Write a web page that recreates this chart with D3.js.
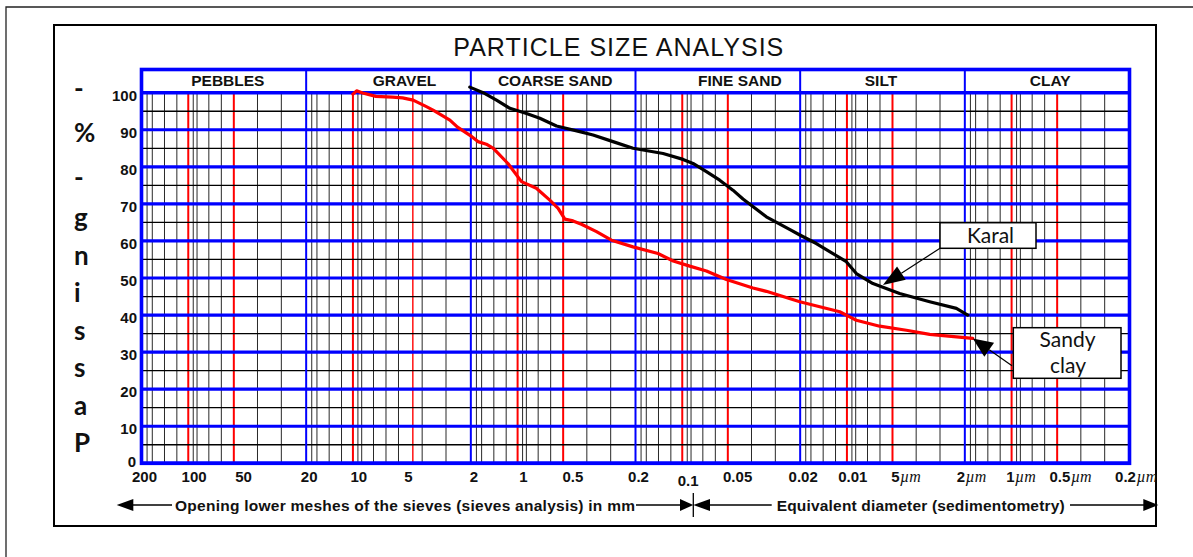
<!DOCTYPE html>
<html><head><meta charset="utf-8">
<script src="https://cdn.jsdelivr.net/npm/d3@7"></script>
<style>body{margin:0;background:#fff}svg{display:block}</style>
</head><body><svg id="c" width="1193" height="557"></svg>
<script>
// ---------------- DATA ----------------
const zoneNames  = ["PEBBLES", "GRAVEL", "COARSE SAND", "FINE SAND", "SILT", "CLAY"];
const zoneBounds = [200, 20, 2, 0.2, 0.02, 0.002, 0.0002];          // mm
// minor grid lines of one decade (read from the first decade, 200 -> 20 mm)
const minorGridMm = [185, 172, 145, 122, 104, 97, 92, 78, 65.5, 55, 39.5, 28.3];
const redGridMm   = [104, 55];       // red lines of each decade
const notRedMm    = [5.5];           // in the gravel decade this line is black
const extraRedMm  = [4.5];           // ... and a red line sits here instead
const yMajor = [0, 10, 20, 30, 40, 50, 60, 70, 80, 90, 100];
const yMinor = [5, 15, 25, 35, 45, 55, 65, 75, 85, 95];
const xTickValues = [200, 100, 50, 20, 10, 5, 2, 1, 0.5, 0.2, 0.1, 0.05, 0.02, 0.01, 0.005, 0.002, 0.001, 0.0005, 0.0002];
const xTickLabels = ["200", "100", "50", "20", "10", "5", "2", "1", "0.5", "0.2", "0.1", "0.05", "0.02", "0.01", "5\u00b5m", "2\u00b5m", "1\u00b5m", "0.5\u00b5m", "0.2\u00b5m"];

// Sandy clay (red)
const sandyClayD = [10.4, 9.88, 9.09, 7.54, 5.98, 5.20, 4.48, 3.75, 3.39, 2.68, 2.41, 1.98, 1.81, 1.61, 1.46, 1.19, 0.985, 0.80, 0.663, 0.590, 0.537, 0.479, 0.426, 0.345, 0.280, 0.207, 0.146, 0.118, 0.0937, 0.0742, 0.0561, 0.0387, 0.0321, 0.0201, 0.0115, 0.0100, 0.00912, 0.00658, 0.00453, 0.00327, 0.00179];
const sandyClayP = [99.6, 100.5, 99.9, 99.0, 98.8, 98.6, 98.0, 96.3, 95.3, 92.6, 90.7, 88.2, 86.8, 86.1, 85.0, 80.9, 76.0, 74.2, 71.0, 68.8, 65.9, 65.4, 64.5, 62.5, 60.2, 58.4, 56.6, 54.6, 53.2, 51.9, 49.6, 47.3, 46.4, 43.6, 40.9, 39.5, 38.6, 37.0, 35.9, 34.8, 33.7];
// Karal (black)
const karalD = [2.03, 1.684, 1.397, 1.159, 0.918, 0.762, 0.604, 0.436, 0.362, 0.274, 0.207, 0.136, 0.1029, 0.0895, 0.0742, 0.0616, 0.0512, 0.0445, 0.0321, 0.0232, 0.0201, 0.01595, 0.01049, 0.00912, 0.00723, 0.00498, 0.00327, 0.00225, 0.00192];
const karalP = [101.5, 100, 98.0, 95.8, 94.4, 93.1, 91.0, 89.5, 88.6, 86.8, 85.0, 83.6, 82.0, 80.9, 78.7, 76.4, 73.7, 71.3, 66.5, 63.1, 61.6, 59.3, 54.4, 51.2, 48.5, 45.8, 43.6, 41.8, 40.0];

const yTitleChars = ["P", "a", "s", "s", "i", "n", "g", "-", "%", "-"];   // bottom to top

// ---------------- DRAW ----------------
const svg = d3.select("#c");
const SANS = "'Liberation Sans', Arial, sans-serif";
const HUM = "Lato, 'Open Sans', sans-serif";
const SERIF = "'Liberation Serif', 'Times New Roman', serif";
const BLUE = "#0000ff", RED = "#ff0000";

const x = d3.scaleLog().domain([200, 0.0002]).range([141.5, 1129.5]);
const y = d3.scaleLinear().domain([0, 100]).range([463.3, 92.7]);
const headTop = 69.5;
const near = (a, b) => Math.abs(Math.log10(a) - Math.log10(b)) < 1e-6;

// frames
svg.append("path").attr("d", "M6,557 V7 H1193").attr("fill", "none").attr("stroke", "#222").attr("stroke-width", 1.3);
svg.append("rect").attr("x", 54).attr("y", 25).attr("width", 1102).attr("height", 501)
  .attr("fill", "none").attr("stroke", "#000").attr("stroke-width", 2);

// title
svg.append("text").attr("x", 618.3).attr("y", 55.7).attr("text-anchor", "middle")
  .attr("font-family", SANS).attr("font-size", 25).attr("textLength", 330).attr("lengthAdjust", "spacing")
  .attr("fill", "#111").text("PARTICLE SIZE ANALYSIS");

const grid = svg.append("g");
const decades = d3.range(zoneBounds.length - 1);
const allRed = decades.flatMap(k => redGridMm.map(m => m / Math.pow(10, k)));
const redVals = allRed.filter(v => !notRedMm.some(n => near(n, v)));
const minorVals = decades.flatMap(k => minorGridMm.filter(m => !redGridMm.includes(m)).map(m => m / Math.pow(10, k)))
  .concat(allRed.filter(v => notRedMm.some(n => near(n, v))));
// minor verticals
grid.selectAll(".mv").data(minorVals).join("line")
  .attr("x1", d => x(d)).attr("x2", d => x(d)).attr("y1", y(100)).attr("y2", y(0))
  .attr("stroke", "#2a2a2a").attr("stroke-width", 1);
// red verticals
grid.selectAll(".rv").data(redVals).join("line")
  .attr("x1", d => x(d)).attr("x2", d => x(d)).attr("y1", y(100)).attr("y2", y(0))
  .attr("stroke", RED).attr("stroke-width", 2);
grid.selectAll(".rv2").data(extraRedMm).join("line")
  .attr("x1", d => x(d)).attr("x2", d => x(d)).attr("y1", y(100)).attr("y2", y(0))
  .attr("stroke", RED).attr("stroke-width", 1.4);
// minor horizontals
grid.selectAll(".mh").data(yMinor).join("line")
  .attr("x1", x(200)).attr("x2", x(0.0002)).attr("y1", d => y(d)).attr("y2", d => y(d))
  .attr("stroke", "#000").attr("stroke-width", 1.3);
// decade verticals
grid.selectAll(".dv").data(zoneBounds.slice(1, -1)).join("line")
  .attr("x1", d => x(d)).attr("x2", d => x(d)).attr("y1", headTop).attr("y2", y(0))
  .attr("stroke", BLUE).attr("stroke-width", 2);
// major horizontals
grid.selectAll(".mj").data(yMajor).join("line")
  .attr("x1", x(200)).attr("x2", x(0.0002)).attr("y1", d => y(d)).attr("y2", d => y(d))
  .attr("stroke", BLUE).attr("stroke-width", d => (d === 0 || d === 100) ? 3.6 : 3.2);
// border
grid.append("rect").attr("x", x(200)).attr("y", headTop).attr("width", x(0.0002) - x(200)).attr("height", y(0) - headTop)
  .attr("fill", "none").attr("stroke", BLUE).attr("stroke-width", 3.6);

// zone header labels
const zoneDx = {"PEBBLES": 4, "GRAVEL": 16, "COARSE SAND": 2, "FINE SAND": 22, "SILT": -1.5, "CLAY": 3};
svg.append("g").selectAll("text").data(zoneNames).join("text")
  .attr("x", (d, i) => (x(zoneBounds[i]) + x(zoneBounds[i + 1])) / 2 + zoneDx[d])
  .attr("y", 86).attr("text-anchor", "middle")
  .attr("font-family", SANS).attr("font-weight", "bold").attr("font-size", 15.5).attr("fill", "#111")
  .text(d => d);

// y tick labels
svg.append("g").selectAll("text").data(yMajor).join("text")
  .attr("x", d => d === 0 ? 136 : 137).attr("y", d => y(d) + (d === 0 ? 4 : 8)).attr("text-anchor", "end")
  .attr("font-family", SANS).attr("font-weight", "bold").attr("font-size", 15).attr("fill", "#111")
  .text(d => d);

// x tick labels
const xt = svg.append("g").attr("font-family", SANS).attr("font-weight", "bold").attr("font-size", 15).attr("fill", "#111");
xTickValues.forEach((v, i) => {
  const lab = xTickLabels[i];
  const base = 482 + (lab === "0.1" ? 3.5 : 0);
  if (lab.includes("\u00b5m")) {
    const num = lab.replace("\u00b5m", "");
    const t = xt.append("text").attr("x", x(v) - 4).attr("y", base).attr("text-anchor", "middle").text(num);
    const bb = t.node().getBBox();
    xt.append("text").attr("x", bb.x + bb.width + 0.5).attr("y", base)
      .attr("font-family", SERIF).attr("font-style", "italic").attr("font-weight", "normal").attr("font-size", 16)
      .text("\u00b5m");
  } else {
    xt.append("text").attr("x", x(v) + 3).attr("y", base).attr("text-anchor", "middle").text(lab);
  }
});

// y title, stacked letters
svg.append("g").selectAll("text").data(yTitleChars).join("text")
  .attr("x", 74).attr("y", (d, i) => i < 7 ? 452 - 37.5 * i : 186.5 - 44.5 * (i - 7))
  .attr("font-family", HUM).attr("font-weight", "bold").attr("font-size", 26).attr("fill", "#111")
  .text(d => d);

// curves
const line = d3.line().x(d => x(d[0])).y(d => y(d[1]));
const sandy = sandyClayD.map((d, i) => [d, sandyClayP[i]]);
const karal = karalD.map((d, i) => [d, karalP[i]]);
svg.append("path").attr("d", line(sandy)).attr("fill", "none").attr("stroke", RED).attr("stroke-width", 3.2)
  .attr("stroke-linejoin", "round").attr("stroke-linecap", "round");
svg.append("path").attr("d", line(karal)).attr("fill", "none").attr("stroke", "#000").attr("stroke-width", 3.2)
  .attr("stroke-linejoin", "round").attr("stroke-linecap", "round");

// annotations
function callout(tipD, tipP, fromX, fromY, len, half) {
  const tx = x(tipD), ty = y(tipP);
  const dx = fromX - tx, dy = fromY - ty, L = Math.hypot(dx, dy);
  const ux = dx / L, uy = dy / L;
  const bx = tx + ux * len, by = ty + uy * len;
  svg.append("line").attr("x1", fromX).attr("y1", fromY).attr("x2", bx).attr("y2", by)
    .attr("stroke", "#000").attr("stroke-width", 1.2);
  svg.append("path").attr("d", `M${tx},${ty}L${bx - uy * half},${by + ux * half}L${bx + uy * half},${by - ux * half}Z`)
    .attr("fill", "#000");
}
callout(0.00629, 48.1, 940, 248.3, 22, 8);
callout(sandyClayD[sandyClayD.length - 1], sandyClayP[sandyClayP.length - 1], 1012, 365.7, 20, 8.5);

svg.append("rect").attr("x", 940).attr("y", 222.7).attr("width", 96).attr("height", 25.6)
  .attr("fill", "#fff").attr("stroke", "#000").attr("stroke-width", 1.5);
svg.append("text").attr("x", 990.5).attr("y", 243.3).attr("text-anchor", "middle")
  .attr("font-family", HUM).attr("font-size", 21).attr("fill", "#111").text("Karal");
svg.append("rect").attr("x", 1013.3).attr("y", 327.7).attr("width", 107.7).attr("height", 50.6)
  .attr("fill", "#fff").attr("stroke", "#000").attr("stroke-width", 1.5);
svg.append("text").attr("x", 1067.5).attr("y", 347).attr("text-anchor", "middle")
  .attr("font-family", HUM).attr("font-size", 21).attr("fill", "#111").text("Sandy");
svg.append("text").attr("x", 1068).attr("y", 373).attr("text-anchor", "middle")
  .attr("font-family", HUM).attr("font-size", 21).attr("fill", "#111").text("clay");

// bottom caption with arrows
const cap = svg.append("g");
const ay = 505;
function head(tip, base, half) {
  cap.append("path").attr("d", `M${tip},${ay}L${base},${ay - half}L${base},${ay + half}Z`).attr("fill", "#000");
}
function seg(a, b) {
  cap.append("line").attr("x1", a).attr("x2", b).attr("y1", ay).attr("y2", ay).attr("stroke", "#000").attr("stroke-width", 1.5);
}
head(116.7, 133.3, 6); seg(133, 172);
cap.append("text").attr("x", 175).attr("y", 510.5).attr("font-family", SANS).attr("font-weight", "bold")
  .attr("font-size", 15.5).attr("textLength", 460).attr("lengthAdjust", "spacing").attr("fill", "#111")
  .text("Opening  lower meshes of the sieves (sieves analysis) in mm");
seg(636, 681); head(693.3, 680, 6);
cap.append("line").attr("x1", 693.3).attr("x2", 693.3).attr("y1", 493).attr("y2", 517).attr("stroke", "#000").attr("stroke-width", 1.3);
head(693.3, 710, 6); seg(709, 771.7);
cap.append("text").attr("x", 776.7).attr("y", 510.5).attr("font-family", SANS).attr("font-weight", "bold")
  .attr("font-size", 15.5).attr("textLength", 288).attr("lengthAdjust", "spacing").attr("fill", "#111")
  .text("Equivalent diameter (sedimentometry)");
seg(1070, 1144); head(1158.3, 1143.3, 6);
</script>
</body></html>
